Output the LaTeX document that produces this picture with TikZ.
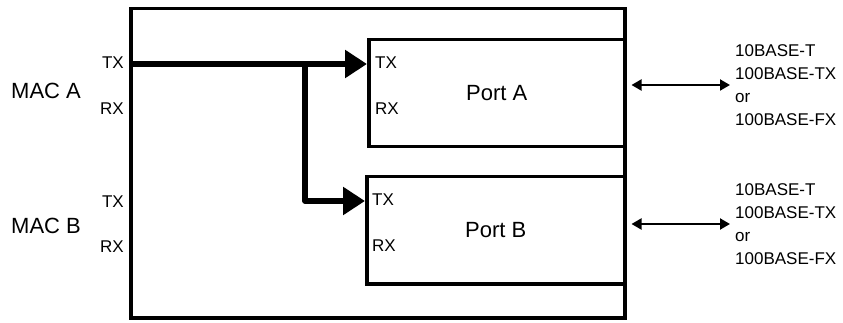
\documentclass[tikz,border=0pt]{standalone}
\usepackage{fontspec}
\setmainfont{Liberation Sans}
\usetikzlibrary{positioning,arrows.meta}
\begin{document}
\begin{tikzpicture}[x=1pt,y=-1pt,
        box/.style={draw,line width=3.5pt,inner sep=0pt,anchor=north west,font=\fontsize{22}{24}\selectfont},
        sig/.style={inner sep=0pt,font=\fontsize{17}{20}\selectfont},
        mac/.style={inner sep=0pt,anchor=west,font=\fontsize{22}{24}\selectfont},
        media/.style={inner sep=0pt,anchor=west,align=left,font=\fontsize{17}{23}\selectfont},
        bus/.style={line width=5.5pt,-{Triangle[length=22pt,width=27pt]}},
        link/.style={line width=2pt,{Triangle[length=10pt,width=11pt]}-{Triangle[length=10pt,width=11pt]},shorten <=5pt,shorten >=5pt}]
        \useasboundingbox (0,0) rectangle (843,323);
        \node   (sw) [box,minimum width=494pt,minimum height=309pt] at (129,7)    {};
        \node   (pa) [box,minimum width=256pt,minimum height=107pt] at (367,38)   {Port A};
        \node   (pb) [box,minimum width=258pt,minimum height=107pt] at (365,175)  {Port B};
        \node   (patx) [sig,anchor=west,xshift=8pt,yshift=-25pt] at (pa.north west) {TX};
        \node   (parx) [sig,below=46pt of patx.west,anchor=west] {RX};
        \node   (pbtx) [sig,anchor=west,xshift=7pt,yshift=-25pt] at (pb.north west) {TX};
        \node   (pbrx) [sig,below=46pt of pbtx.west,anchor=west] {RX};
        \node   (atx) [sig,anchor=east] at (124,63)  {TX};
        \node   (arx) [sig,anchor=east] at (124,109) {RX};
        \node   (btx) [sig,anchor=east] at (124,202) {TX};
        \node   (brx) [sig,anchor=east] at (124,247) {RX};
        \node   (maca) [mac] at (11,91)  {MAC A};
        \node   (macb) [mac] at (11,226) {MAC B};
        \node   (ma) [media] at (735,85)  {10BASE-T\\100BASE-TX\\or\\100BASE-FX};
        \node   (mb) [media] at (735,224) {10BASE-T\\100BASE-TX\\or\\100BASE-FX};
        \coordinate (src) at (129,64);
        \coordinate (split) at (305,64);
        \draw[bus] (src) -- (pa.west |- src);
        \draw[bus,line join=round] (split) |- (pb.west |- 0,201);
        \draw[link] (pa.east |- ma.west) -- (ma.west);
        \draw[link] (pb.east |- mb.west) -- (mb.west);
\end{tikzpicture}
\end{document}
